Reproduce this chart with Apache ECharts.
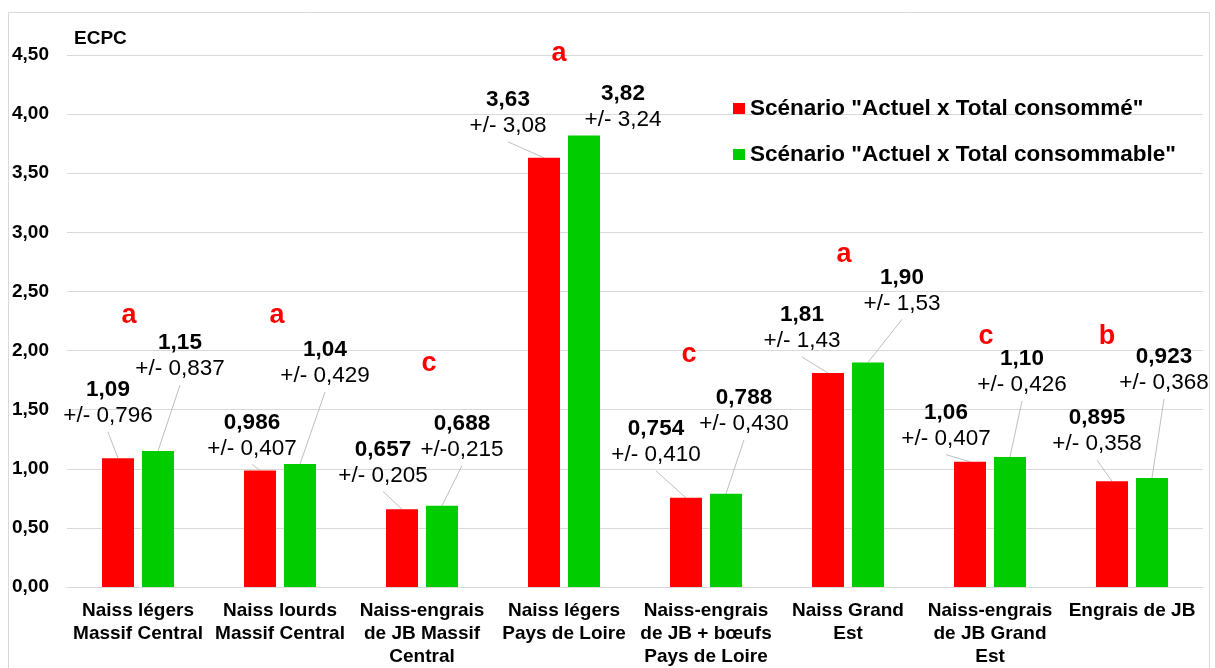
<!DOCTYPE html>
<html>
<head>
<meta charset="utf-8">
<script src="https://cdn.jsdelivr.net/npm/echarts@6/dist/echarts.min.js"></script>
<style>
  html, body { margin: 0; padding: 0; background: #fff; }
  #chart { width: 1215px; height: 668px; }
</style>
</head>
<body>
<div id="chart"></div>
<script>
// Categories (farm systems) and ECPC values for the two scenarios
const categories = [
  'Naiss légers\nMassif Central',
  'Naiss lourds\nMassif Central',
  'Naiss-engrais\nde JB Massif\nCentral',
  'Naiss légers\nPays de Loire',
  'Naiss-engrais\nde JB + bœufs\nPays de Loire',
  'Naiss Grand\nEst',
  'Naiss-engrais\nde JB Grand\nEst',
  'Engrais de JB'
];
const seriesNames = ['Scénario "Actuel x Total consommé"', 'Scénario "Actuel x Total consommable"'];
const consomme = [1.09, 0.986, 0.657, 3.63, 0.754, 1.81, 1.06, 0.895];
const consommable = [1.15, 1.04, 0.688, 3.82, 0.788, 1.90, 1.10, 0.923];
const consommeErr = ['+/- 0,796', '+/- 0,407', '+/- 0,205', '+/- 3,08', '+/- 0,410', '+/- 1,43', '+/- 0,407', '+/- 0,358'];
const consommableErr = ['+/- 0,837', '+/- 0,429', '+/-0,215', '+/- 3,24', '+/- 0,430', '+/- 1,53', '+/- 0,426', '+/- 0,368'];
const groupLetters = ['a', 'a', 'c', 'a', 'c', 'a', 'c', 'b'];
const yMin = 0, yMax = 4.5, yStep = 0.5;

// Layout: label shifts (px) from the top of each bar, and letter placement
const redShift = [[-10, -29], [-8, -9], [-19, -21], [-36, -19], [-30, -30], [-26, -19], [-24, -10], [-15, -24]];
const greenShift = [[22, -69], [25, -75], [20, -43], [39, -3], [18, -57], [34, -46], [12, -59], [12, -82]];
const letterHeight = [2.30, 2.30, 1.89, 4.51, 1.97, 2.81, 2.12, 2.12];
const letterDx = [-9, -3, 7, -5, -17, -4, -4, -25];

const FONT = '"Liberation Sans", Arial, sans-serif';
const RED = '#ff0000';
const GREEN = '#00cc00';
const LABEL_SIZE = 22.5;
const LINE_H = 26;

const fmt = v => v.toPrecision(3).replace('.', ',');

function barLabel(errs) {
  return {
    show: true,
    position: 'top',
    distance: 0,
    formatter: p => '{v|' + fmt(p.value) + '}\n{e|' + errs[p.dataIndex] + '}',
    rich: {
      v: { fontFamily: FONT, fontWeight: 'bold', fontSize: LABEL_SIZE, lineHeight: LINE_H, color: '#000', align: 'center' },
      e: { fontFamily: FONT, fontSize: LABEL_SIZE, lineHeight: LINE_H, color: '#000', align: 'center' }
    }
  };
}

const frame = {
  type: 'rect', silent: true,
  shape: { x: 8.5, y: 12.5, width: 1201, height: 700 },
  style: { fill: 'none', stroke: '#d9d9d9', lineWidth: 1 }
};

const chart = echarts.init(document.getElementById('chart'), null, { renderer: 'canvas' });
chart.setOption({
  animation: false,
  backgroundColor: '#fff',
  title: {
    text: 'ECPC', left: 74, top: 29, padding: 0,
    textStyle: { fontFamily: FONT, fontWeight: 'bold', fontSize: 19, color: '#000' }
  },
  graphic: [frame],
  legend: {
    data: seriesNames,
    orient: 'vertical', left: 733, top: 96, padding: 0,
    itemWidth: 12, itemHeight: 11, itemGap: 21,
    icon: 'rect',
    textStyle: { fontFamily: FONT, fontWeight: 'bold', fontSize: LABEL_SIZE, lineHeight: 25, color: '#000' }
  },
  grid: { left: 67, right: 12, top: 55, bottom: 79 },
  xAxis: {
    type: 'category',
    data: categories,
    axisLine: { lineStyle: { color: '#d9d9d9' } },
    axisTick: { show: false },
    axisLabel: {
      interval: 0, margin: 12,
      fontFamily: FONT, fontWeight: 'bold', fontSize: 19, lineHeight: 23, color: '#000'
    }
  },
  yAxis: {
    type: 'value', min: yMin, max: yMax, interval: yStep,
    axisLine: { show: false },
    axisTick: { show: false },
    splitLine: { lineStyle: { color: '#d9d9d9' } },
    axisLabel: {
      margin: 18,
      formatter: v => v.toFixed(2).replace('.', ','),
      fontFamily: FONT, fontWeight: 'bold', fontSize: 19, color: '#000'
    }
  },
  series: [
    {
      name: seriesNames[0], type: 'bar', data: consomme,
      barWidth: 32, barGap: '25%',
      itemStyle: { color: RED },
      label: barLabel(consommeErr),
      labelLayout: p => ({ dx: redShift[p.dataIndex][0], dy: redShift[p.dataIndex][1] })
    },
    {
      name: seriesNames[1], type: 'bar', data: consommable,
      barWidth: 32,
      itemStyle: { color: GREEN },
      label: barLabel(consommableErr),
      labelLayout: p => ({ dx: greenShift[p.dataIndex][0], dy: greenShift[p.dataIndex][1] })
    },
    {
      // significance letters above each group
      name: 'letters', type: 'scatter', silent: true, clip: false,
      symbolSize: 1, itemStyle: { color: 'rgba(0,0,0,0)', opacity: 1 },
      data: groupLetters.map((l, i) => ({
        value: [i, letterHeight[i]],
        label: { offset: [letterDx[i], 0] }
      })),
      label: {
        show: true, position: 'inside',
        formatter: p => groupLetters[p.dataIndex],
        fontFamily: FONT, fontWeight: 'bold', fontSize: 27, color: RED, opacity: 1
      }
    }
  ]
});

// Leader lines from each moved label down to the top centre of its bar
const leaders = [];
[[0, redShift], [1, greenShift]].forEach(([si, shifts]) => {
  const data = chart.getModel().getSeriesByIndex(si).getData();
  for (let i = 0; i < data.count(); i++) {
    const lay = data.getItemLayout(i);
    const cx = lay.x + lay.width / 2;
    const top = Math.min(lay.y, lay.y + lay.height);
    const [dx, dy] = shifts[i];
    if (-dy < 8) continue;
    leaders.push({
      type: 'line', silent: true,
      shape: { x1: cx + dx, y1: top + dy + 3, x2: cx, y2: top },
      style: { stroke: '#bfbfbf', lineWidth: 1 }
    });
  }
});
chart.setOption({ graphic: [frame].concat(leaders) }, { replaceMerge: ['graphic'] });
</script>
</body>
</html>
